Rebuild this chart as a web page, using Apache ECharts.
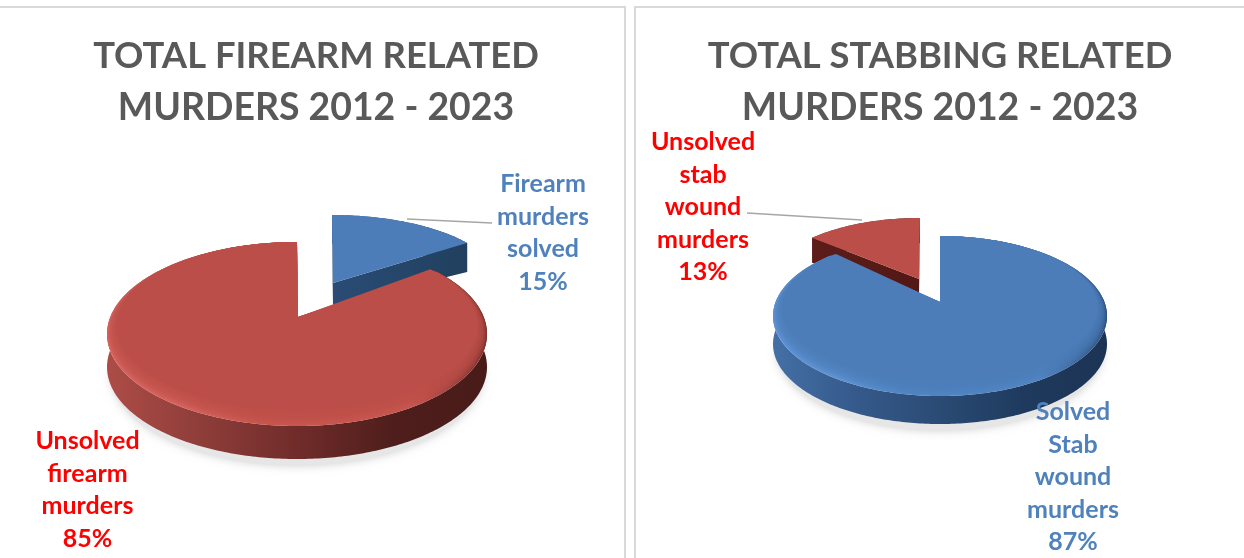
<!DOCTYPE html>
<html>
<head>
<meta charset="utf-8">
<style>html,body{margin:0;padding:0;background:#fff}#c{width:1244px;height:558px}</style>
<script src="https://cdn.jsdelivr.net/npm/echarts@6/dist/echarts.min.js"></script>
</head>
<body>
<div id="c"></div>
<script>
// ---- data ----
const titleLines1 = ['TOTAL FIREARM RELATED', 'MURDERS 2012 - 2023'];
const titleLines2 = ['TOTAL STABBING RELATED', 'MURDERS 2012 - 2023'];
const firearmLabels = [['Firearm', 'murders', 'solved'], ['Unsolved', 'firearm', 'murders']];
const firearmValues = [15, 85];
const stabLabels = [['Solved', 'Stab', 'wound', 'murders'], ['Unsolved', 'stab', 'wound', 'murders']];
const stabValues = [87, 13];

// ---- palette ----
const BLUE = {text: '#4F81BD', top: '#4D7DB9', light: '#5E92D3', mid: '#5184C3', dark: '#2F5585',
  wall: ['#4470A6', '#35598A', '#2A4B74', '#1F3A5E', '#1C3454'], cut: ['#2A4C75', '#21405F']};
const RED = {text: '#FF0000', top: '#BC4E4A', light: '#D6625D', mid: '#C8564F', dark: '#84332F',
  wall: ['#AD4C47', '#8E3D39', '#702C2A', '#4F1E1C', '#481B19'], cut: ['#5C1D1A', '#521815']};

// ---- layout (pixels) of each slice, per pie; perspective nudges in degrees ----
const firearmLayout = [
  {cx: 332, cy: 283, rx: 167, ry: 68, ax: 333, ay: 283, depth: 22, rimDepth: 29, pal: BLUE, z: 1, shadow: false,
   startAdj: 0, endAdj: 0, labelX: 543, labelY: 233, leader: [[407, 219], [492, 223]]},
  {cx: 297, cy: 334, rx: 190, ry: 92, ax: 298, ay: 317, depth: 33, rimDepth: 33, pal: RED, z: 10, shadow: true,
   startAdj: -6.5, endAdj: 0, labelX: 87.5, labelY: 490, leader: null}
];
const stabLayout = [
  {cx: 940, cy: 316, rx: 167, ry: 80, ax: 940, ay: 302, depth: 28, rimDepth: 28, pal: BLUE, z: 10, shadow: true,
   startAdj: 0, endAdj: 5.6, labelX: 1073, labelY: 477, leader: null},
  {cx: 920, cy: 281, rx: 148, ry: 63, ax: 919, ay: 279, depth: 14, rimDepth: 25, pal: RED, z: 1, shadow: false,
   startAdj: 0, endAdj: 0, labelX: 703, labelY: 207, leader: [[747, 213], [862, 220]]}
];

function makeRender(values, labels, layouts) {
  const total = values.reduce((a, b) => a + b, 0);
  return function (params, api) {
    const i = params.dataIndex;
    const v = api.value(0);
    const L = layouts[i], P = L.pal;
    let before = 0;
    for (let k = 0; k < i; k++) before += values[k];
    const t0 = before / total * 360 + L.startAdj, t1 = (before + v) / total * 360 + L.endAdj;
    const rim = (t, dx, dy, cyShift) => {
      const a = t * Math.PI / 180;
      return [L.cx + (L.rx - dx) * Math.sin(a), L.cy + cyShift - (L.ry - dy) * Math.cos(a)];
    };
    const arc = (from, to, dx, dy, cyShift) => {
      const pts = [];
      for (let t = from; t < to; t += 1) pts.push(rim(t, dx, dy, cyShift));
      pts.push(rim(to, dx, dy, cyShift));
      return pts;
    };
    const down = (pts, d) => pts.map(p => [p[0], p[1] + d]);
    const apex = [L.ax, L.ay];
    const outer = arc(t0, t1, 0, 0, 0);
    const grad = (stops) => new echarts.graphic.LinearGradient(0, 0, 1, 0,
      stops.map((c, n) => ({offset: n / (stops.length - 1), color: c})));
    const poly = (pts, style, z) => ({type: 'polygon', shape: {points: pts}, style: style, z2: L.z + z, silent: true});
    const kids = [];

    if (L.shadow) {
      // soft ground shadow, only under the near half of the pie
      const near = arc(90, 270, 3, -2, L.depth + 5);
      kids.push(poly(near, {fill: '#E6E6E6', shadowBlur: 9, shadowColor: '#D4D4D4'}, 0));
    }
    // outer wall
    const rimBand = outer.concat(down(outer, L.rimDepth).reverse());
    kids.push(poly(rimBand, {fill: grad(P.wall)}, 1));
    // cut faces
    const first = outer[0], last = outer[outer.length - 1];
    [first, last].forEach(p => {
      kids.push(poly([apex, p, [p[0], p[1] + L.rimDepth], [apex[0], apex[1] + L.depth]], {fill: grad(P.cut)}, 2));
    });
    // bevel layer, then soft inset layers up to the flat top
    const top = [apex].concat(outer);
    kids.push(poly(top, {fill: L.shadow ? grad([P.light, P.light, P.mid, P.mid, P.mid, P.dark]) : P.top}, 3));
    if (L.shadow) {
      const steps = 7;
      for (let k = 1; k <= steps; k++) {
        const d = k * 1.3;
        const inner = [apex].concat(arc(t0, t1, d, d * 0.85, -d * 0.85));
        kids.push(poly(inner, {fill: P.top, opacity: k === steps ? 1 : 0.3}, 3 + k));
      }
    }
    // leader
    if (L.leader) {
      kids.push({type: 'line', z2: L.z + 12,
        shape: {x1: L.leader[0][0], y1: L.leader[0][1], x2: L.leader[1][0], y2: L.leader[1][1]},
        style: {stroke: '#A6A6A6', lineWidth: 1.5}});
    }
    // label
    kids.push({type: 'text', z2: 40, silent: true,
      style: {x: L.labelX, y: L.labelY, text: labels[i].concat([v + '%']).join('\n'),
        fill: P.text, font: 'bold 25px Lato', lineHeight: 32.5,
        textAlign: 'center', textVerticalAlign: 'middle'}});
    return {type: 'group', children: kids};
  };
}

const titleRich = {
  a: {fontFamily: 'Lato', fontWeight: 'bold', fontSize: 36.4, lineHeight: 52, color: '#595959'},
  b: {fontFamily: 'Lato', fontWeight: 'bold', fontSize: 37.4, lineHeight: 52, color: '#595959'}
};
const titleText = (lines) => '{a|' + lines[0] + '}\n{b|' + lines[1] + '}';
const panelLine = {stroke: '#D9D9D9', lineWidth: 2};
const chart = echarts.init(document.getElementById('c'), null, {renderer: 'canvas'});
chart.setOption({
  backgroundColor: '#FFFFFF',
  animation: false,
  title: [
    {text: titleText(titleLines1), left: 311, top: 25, textAlign: 'center', textStyle: {rich: titleRich}},
    {text: titleText(titleLines2), left: 935, top: 25, textAlign: 'center', textStyle: {rich: titleRich}}
  ],
  graphic: [
    {type: 'polyline', shape: {points: [[0, 7], [625, 7], [625, 558]]}, style: Object.assign({fill: 'none'}, panelLine), silent: true},
    {type: 'polyline', shape: {points: [[635, 558], [635, 7], [1244, 7]]}, style: Object.assign({fill: 'none'}, panelLine), silent: true}
  ],
  series: [
    {type: 'custom', coordinateSystem: 'none', silent: true,
     renderItem: makeRender(firearmValues, firearmLabels, firearmLayout),
     data: firearmValues.map((v, i) => ({name: firearmLabels[i].join(' '), value: [v]}))},
    {type: 'custom', coordinateSystem: 'none', silent: true,
     renderItem: makeRender(stabValues, stabLabels, stabLayout),
     data: stabValues.map((v, i) => ({name: stabLabels[i].join(' '), value: [v]}))}
  ]
});
</script>
</body>
</html>
